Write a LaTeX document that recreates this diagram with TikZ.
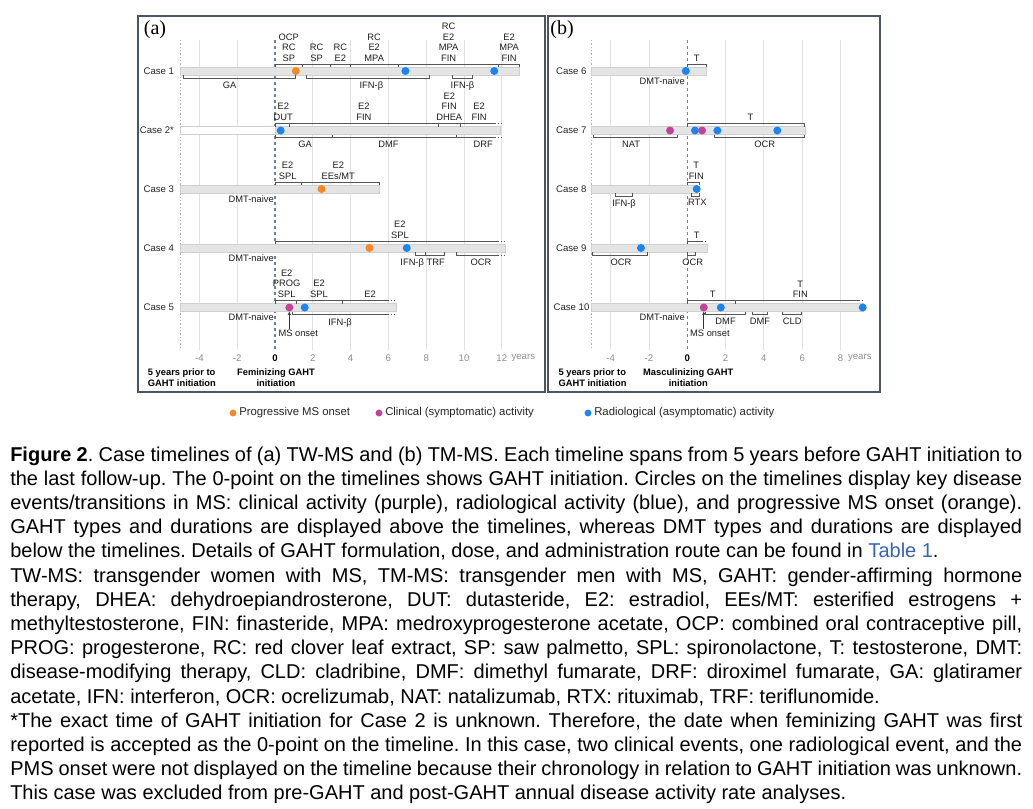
\documentclass[tikz,border=0pt]{standalone}
\usepackage{fontspec}
\setmainfont{Liberation Sans}
\newfontfamily\panelfont{Liberation Serif}
\usetikzlibrary{arrows.meta}
\definecolor{corange}{HTML}{F5892A}
\definecolor{cpurple}{HTML}{C2439A}
\definecolor{cblue}{HTML}{1C84F0}
\definecolor{barfill}{HTML}{E4E4E4}
\definecolor{barline}{HTML}{D0D0D0}
\definecolor{gridc}{HTML}{E2E2E2}
\definecolor{brkc}{HTML}{555555}
\definecolor{zeroc}{HTML}{7080A2}
\definecolor{fivec}{HTML}{A8AEBA}
\definecolor{framec}{HTML}{4B5661}
\definecolor{tickc}{HTML}{8E8E8E}
\definecolor{linkc}{HTML}{3563B5}
\newcommand\btop[3]{\draw[brkl] (#2,#1+3) -- (#2,#1) -- (#3,#1) -- (#3,#1+3);}
\newcommand\bbot[3]{\draw[brkl] (#2,#1-3) -- (#2,#1) -- (#3,#1) -- (#3,#1-3);}
\newcommand\tlrow[2]{\draw[tlbar] (-5,#1-4.2) rectangle (#2,#1+4.2);}
\frenchspacing
\begin{document}
\begin{tikzpicture}[x=0.75pt,y=-0.75pt,
  lab/.style={font=\fontsize{7}{8}\selectfont, align=center, inner sep=0pt, text=black!88},
  abv/.style={lab, anchor=south},
  blw/.style={lab, anchor=north},
  naive/.style={lab, anchor=north east},
  caselab/.style={font=\fontsize{7.2}{8}\selectfont, anchor=east, inner sep=0pt, text=black!85},
  ev/.style={circle, inner sep=0pt, minimum size=6pt},
  lg/.style={circle, inner sep=0pt, minimum size=5.2pt},
  tlbar/.style={fill=barfill, draw=barline, line width=0.4pt},
  brkl/.style={draw=brkc, line width=0.7pt},
  dotl/.style={draw=brkc, line width=0.7pt, dash pattern=on 0.8pt off 1.4pt},
  gridl/.style={draw=gridc, line width=0.75pt},
  ticklab/.style={font=\fontsize{7.2}{8}\selectfont, text=tickc, inner sep=0pt},
  boldlab/.style={font=\bfseries\fontsize{7}{8}\selectfont, inner sep=0pt, align=left},
  onsetarr/.style={draw=black!80, line width=0.6pt, -{Stealth[length=2.5pt,width=2.5pt]}},
  captxt/.style={font=\fontsize{15}{18}\selectfont, inner sep=0pt, anchor=base west},
  legt/.style={font=\fontsize{8.5}{10}\selectfont, inner sep=0pt, anchor=west, text=black!85}]
\useasboundingbox (0,0) rectangle (1033,808);
\fill[white] (0,0) rectangle (1033,808);

% ---------------- panel (a)
\begin{scope}[shift={(275,0)}, x=14.175pt]
\foreach \g in {-4,-2,2,4,6,8,10,12} \draw[gridl] (\g,40) -- (\g,350);
\draw[fivec, line width=0.75pt, dash pattern=on 1pt off 1.5pt] (-5,40) -- (-5,350);
\draw[zeroc, line width=0.9pt, dash pattern=on 2.5pt off 2pt] (0,40) -- (0,350);
% Case 1
\node[caselab] (c1) at (-5.33,71) {Case 1};
\tlrow{71}{12.93}
\btop{64}{0}{1.46}\btop{64}{1.46}{2.94}\btop{64}{2.94}{3.97}\btop{64}{3.97}{6.54}\btop{64}{6.54}{11.84}\btop{64}{11.84}{12.93}
\node[abv] (g11) at (0.73,61.7) {OCP\\RC\\SP};
\node[abv] (g12) at (2.2,61.7) {RC\\SP};
\node[abv] (g13) at (3.455,61.7) {RC\\E2};
\node[abv] (g14) at (5.25,61.7) {RC\\E2\\MPA};
\node[abv] (g15) at (9.19,61.7) {RC\\E2\\MPA\\FIN};
\node[abv] (g16) at (12.39,61.7) {E2\\MPA\\FIN};
\bbot{78}{-4.85}{1.1}\bbot{78}{1.64}{8.17}\bbot{78}{9.4}{10.44}
\node[blw] (d11) at (-2.4,81.5) {GA};
\node[blw] (d12) at (5.1,81.5) {IFN-β};
\node[blw] (d13) at (9.92,81.5) {IFN-β};
\node[ev, fill=corange] (e11) at (1.1,71) {};
\node[ev, fill=cblue] (e12) at (6.9,71) {};
\node[ev, fill=cblue] (e13) at (11.6,71) {};
% Case 2
\node[caselab] (c2) at (-5.33,130.5) {Case 2*};
\draw[fill=white, draw=barline, line width=0.4pt] (-5,126.3) rectangle (0,134.7);
\draw[tlbar] (0,126.3) rectangle (11.9,134.7);
\btop{123.5}{0}{0.79}\btop{123.5}{0.79}{8.64}\btop{123.5}{8.64}{9.8}
\draw[brkl] (9.8,123.5) -- (11.64,123.5);
\draw[dotl] (11.64,123.5) -- (12.05,123.5);
\node[abv] (g21) at (0.44,120.7) {E2\\DUT};
\node[abv] (g22) at (4.7,120.7) {E2\\FIN};
\node[abv] (g23) at (9.22,120.7) {E2\\FIN\\DHEA};
\node[abv] (g24) at (10.8,120.7) {E2\\FIN};
\bbot{137.5}{0}{3.03}\bbot{137.5}{3.03}{9.58}
\draw[brkl] (9.58,137.5) -- (11.64,137.5);
\draw[dotl] (11.64,137.5) -- (12.05,137.5);
\node[blw] (d21) at (1.59,140.7) {GA};
\node[blw] (d22) at (6.0,140.7) {DMF};
\node[blw] (d23) at (11.02,140.7) {DRF};
\node[ev, fill=cblue] (e21) at (0.3,130.5) {};
% Case 3
\node[caselab] (c3) at (-5.33,189) {Case 3};
\tlrow{189}{5.52}
\btop{182}{0}{1.4}\btop{182}{1.4}{5.52}
\node[abv] (g31) at (0.67,179.5) {E2\\SPL};
\node[abv] (g32) at (3.35,179.5) {E2\\EEs/MT};
\node[naive] (d31) at (-0.05,195.2) {DMT-naive};
\node[ev, fill=corange] (e31) at (2.46,189) {};
% Case 4
\node[caselab] (c4) at (-5.33,248) {Case 4};
\tlrow{248}{12.2}
\draw[brkl] (0,244) -- (0,241) -- (11.81,241);
\draw[dotl] (11.81,241) -- (12.2,241);
\node[abv] (g41) at (6.61,238.5) {E2\\SPL};
\node[naive] (d41) at (-0.05,254.2) {DMT-naive};
\bbot{255}{7.44}{7.97}\bbot{255}{7.97}{8.96}
\draw[brkl] (9.61,252) -- (9.61,255) -- (11.81,255);
\draw[dotl] (11.81,255) -- (12.2,255);
\node[blw] (d42) at (7.26,258.5) {IFN-β};
\node[blw] (d43) at (8.5,258.5) {TRF};
\node[blw] (d44) at (10.9,258.5) {OCR};
\node[ev, fill=corange] (e41) at (5.0,248) {};
\node[ev, fill=cblue] (e42) at (6.97,248) {};
% Case 5
\node[caselab] (c5) at (-5.33,307.5) {Case 5};
\tlrow{307.5}{6.4}
\btop{300.5}{0}{1.15}\btop{300.5}{1.15}{3.56}
\draw[brkl] (3.56,300.5) -- (5.99,300.5);
\draw[dotl] (5.99,300.5) -- (6.42,300.5);
\node[abv] (g51) at (0.62,298) {E2\\PROG\\SPL};
\node[abv] (g52) at (2.33,298) {E2\\SPL};
\node[abv] (g53) at (5.03,298) {E2};
\draw[brkl] (0.94,311.5) -- (0.94,314.5) -- (5.99,314.5);
\draw[dotl] (5.99,314.5) -- (6.42,314.5);
\node[blw] (d51) at (3.44,318) {IFN-β};
\node[naive] (d52) at (-0.05,313.7) {DMT-naive};
\node[ev, fill=cpurple] (e51) at (0.76,307.5) {};
\node[ev, fill=cblue] (e52) at (1.57,307.5) {};
\node[lab] (on5) at (1.23,333.5) {MS onset};
\draw[onsetarr] (on5.north -| e51) ++(0,-1) -- (e51.south);
% axis
\node[ticklab] (a1) at (-4,358.3) {-4};
\node[ticklab] (a2) at (-2,358.3) {-2};
\node[ticklab, text=black, font=\bfseries\fontsize{7.2}{8}\selectfont] (a3) at (0,358.3) {0};
\node[ticklab] (a4) at (2,358.3) {2};
\node[ticklab] (a5) at (4,358.3) {4};
\node[ticklab] (a6) at (6,358.3) {6};
\node[ticklab] (a7) at (8,358.3) {8};
\node[ticklab] (a8) at (10,358.3) {10};
\node[ticklab] (a9) at (12,358.3) {12};
\node[ticklab] (a10) at (13.14,358.3) {years};
\end{scope}
\node[boldlab, anchor=north west] (fa1) at (147.7,368.5) {5 years prior to\\GAHT initiation};
\node[boldlab, anchor=north, align=center] (fa2) at (276,368.5) {Feminizing GAHT\\initiation};
\node[font=\panelfont\fontsize{15}{16}\selectfont, inner sep=0pt] (pa) at (155,29.5) {(a)};
\draw[framec, line width=1.5pt] (138,16) rectangle (545,392);

% ---------------- panel (b)
\begin{scope}[shift={(687.3,0)}, x=14.3625pt]
\foreach \g in {-4,-2,2,4,6,8} \draw[gridl] (\g,40) -- (\g,350);
\draw[fivec, line width=0.75pt, dash pattern=on 1pt off 1.5pt] (-5,40) -- (-5,350);
\draw[zeroc, line width=0.9pt, dash pattern=on 2.5pt off 2pt] (0,40) -- (0,350);
% Case 6
\node[caselab] (c6) at (-5.25,71) {Case 6};
\tlrow{71}{0.98}
\btop{64}{0}{0.98}
\node[abv] (g61) at (0.49,61.7) {T};
\node[naive] (d61) at (-0.12,77.5) {DMT-naive};
\node[ev, fill=cblue] (e61) at (-0.08,71) {};
% Case 7
\node[caselab] (c7) at (-5.25,130.5) {Case 7};
\tlrow{130.5}{6.14}
\btop{123.5}{0}{6.14}
\node[abv] (g71) at (3.3,120.7) {T};
\bbot{137.5}{-4.88}{-0.52}\bbot{137.5}{1.41}{6.14}
\node[blw] (d71) at (-2.93,140.7) {NAT};
\node[blw] (d72) at (4.04,140.7) {OCR};
\node[ev, fill=cpurple] (e71) at (-0.9,130.5) {};
\node[ev, fill=cblue] (e72) at (0.4,130.5) {};
\node[ev, fill=cpurple] (e73) at (0.77,130.5) {};
\node[ev, fill=cblue] (e74) at (1.57,130.5) {};
\node[ev, fill=cblue] (e75) at (4.7,130.5) {};
% Case 8
\node[caselab] (c8) at (-5.25,189) {Case 8};
\tlrow{189}{0.5}
\btop{182}{0}{0.61}
\node[abv] (g81) at (0.47,179.5) {T\\FIN};
\bbot{196}{-3.74}{-2.87}\bbot{196}{0.23}{0.61}
\node[blw] (d81) at (-3.3,199) {IFN-β};
\node[blw] (d82) at (0.52,199) {RTX};
\node[ev, fill=cblue] (e81) at (0.49,189) {};
% Case 9
\node[caselab] (c9) at (-5.25,248) {Case 9};
\tlrow{248}{1.04}
\draw[brkl] (0,244) -- (0,241) -- (0.75,241);
\draw[dotl] (0.75,241) -- (1.04,241);
\node[abv] (g91) at (0.49,238.5) {T};
\bbot{255}{-4.94}{-2.1}\bbot{255}{0}{0.44}
\node[blw] (d91) at (-3.46,258.5) {OCR};
\node[blw] (d92) at (0.28,258.5) {OCR};
\node[ev, fill=cblue] (e91) at (-2.42,248) {};
% Case 10
\node[caselab] (c10) at (-5.1,307.5) {Case 10};
\tlrow{307.5}{9.19}
\btop{300.5}{0}{2.53}
\draw[brkl] (2.53,303.5) -- (2.53,300.5) -- (8.95,300.5);
\draw[dotl] (8.95,300.5) -- (9.19,300.5);
\node[abv] (g101) at (1.33,298) {T};
\node[abv] (g102) at (5.9,298) {T\\FIN};
\bbot{314.5}{0.96}{3.05}\bbot{314.5}{3.4}{4.19}\bbot{314.5}{4.96}{5.97}
\node[blw] (d101) at (2.0,318) {DMF};
\node[blw] (d102) at (3.8,318) {DMF};
\node[blw] (d103) at (5.48,318) {CLD};
\node[naive] (d104) at (-0.12,313.7) {DMT-naive};
\node[ev, fill=cpurple] (e101) at (0.86,307.5) {};
\node[ev, fill=cblue] (e102) at (1.75,307.5) {};
\node[ev, fill=cblue] (e103) at (9.16,307.5) {};
\node[lab] (on10) at (1.18,333.5) {MS onset};
\draw[onsetarr] (on10.north -| e101) ++(0,-1) -- (e101.south);
% axis
\node[ticklab] (b1) at (-4,358.3) {-4};
\node[ticklab] (b2) at (-2,358.3) {-2};
\node[ticklab, text=black, font=\bfseries\fontsize{7.2}{8}\selectfont] (b3) at (0,358.3) {0};
\node[ticklab] (b4) at (2,358.3) {2};
\node[ticklab] (b5) at (4,358.3) {4};
\node[ticklab] (b6) at (6,358.3) {6};
\node[ticklab] (b7) at (8,358.3) {8};
\node[ticklab] (b8) at (9.01,358.3) {years};
\end{scope}
\node[boldlab, anchor=north west] (fb1) at (558.3,368.5) {5 years prior to\\GAHT initiation};
\node[boldlab, anchor=north, align=center] (fb2) at (688.3,368.5) {Masculinizing GAHT\\initiation};
\node[font=\panelfont\fontsize{15}{16}\selectfont, inner sep=0pt] (pb) at (562,29.5) {(b)};
\draw[framec, line width=1.5pt] (548,16) rectangle (880,392);

% ---------------- legend
\node[lg, fill=corange] (l1) at (233,413) {};
\node[legt] (lt1) at (239,413) {Progressive MS onset};
\node[lg, fill=cpurple] (l2) at (379,413) {};
\node[legt] (lt2) at (385,413) {Clinical (symptomatic) activity};
\node[lg, fill=cblue] (l3) at (588,413) {};
\node[legt] (lt3) at (594,413) {Radiological (asymptomatic) activity};

% ---------------- caption
\node[captxt] (t1) at (10,461) {\makebox[759pt][s]{\textbf{Figure 2}. Case timelines of (a) TW-MS and (b) TM-MS. Each timeline spans from 5 years before GAHT initiation to}};
\node[captxt] (t2) at (10,485.2) {\makebox[759pt][s]{the last follow-up. The 0-point on the timelines shows GAHT initiation. Circles on the timelines display key disease}};
\node[captxt] (t3) at (10,509.4) {\makebox[759pt][s]{events/transitions in MS: clinical activity (purple), radiological activity (blue), and progressive MS onset (orange).}};
\node[captxt] (t4) at (10,533.6) {\makebox[759pt][s]{GAHT types and durations are displayed above the timelines, whereas DMT types and durations are displayed}};
\node[captxt] (t5) at (10,557.8) {below the timelines. Details of GAHT formulation, dose, and administration route can be found in \textcolor{linkc}{Table 1}.};
\node[captxt] (t6) at (10,582) {\makebox[759pt][s]{TW-MS: transgender women with MS, TM-MS: transgender men with MS, GAHT: gender-affirming hormone}};
\node[captxt] (t7) at (10,606.2) {\makebox[759pt][s]{therapy, DHEA: dehydroepiandrosterone, DUT: dutasteride, E2: estradiol, EEs/MT: esterified estrogens +}};
\node[captxt] (t8) at (10,630.4) {\makebox[759pt][s]{methyltestosterone, FIN: finasteride, MPA: medroxyprogesterone acetate, OCP: combined oral contraceptive pill,}};
\node[captxt] (t9) at (10,654.6) {\makebox[759pt][s]{PROG: progesterone, RC: red clover leaf extract, SP: saw palmetto, SPL: spironolactone, T: testosterone, DMT:}};
\node[captxt] (t10) at (10,678.8) {\makebox[759pt][s]{disease-modifying therapy, CLD: cladribine, DMF: dimethyl fumarate, DRF: diroximel fumarate, GA: glatiramer}};
\node[captxt] (t11) at (10,703) {acetate, IFN: interferon, OCR: ocrelizumab, NAT: natalizumab, RTX: rituximab, TRF: teriflunomide.};
\node[captxt] (t12) at (10,727.2) {\makebox[759pt][s]{*The exact time of GAHT initiation for Case 2 is unknown. Therefore, the date when feminizing GAHT was first}};
\node[captxt] (t13) at (10,751.4) {\makebox[759pt][s]{reported is accepted as the 0-point on the timeline. In this case, two clinical events, one radiological event, and the}};
\node[captxt] (t14) at (10,775.6) {\makebox[759pt][s]{PMS onset were not displayed on the timeline because their chronology in relation to GAHT initiation was unknown.}};
\node[captxt] (t15) at (10,799.8) {This case was excluded from pre-GAHT and post-GAHT annual disease activity rate analyses.};
\end{tikzpicture}
\end{document}
